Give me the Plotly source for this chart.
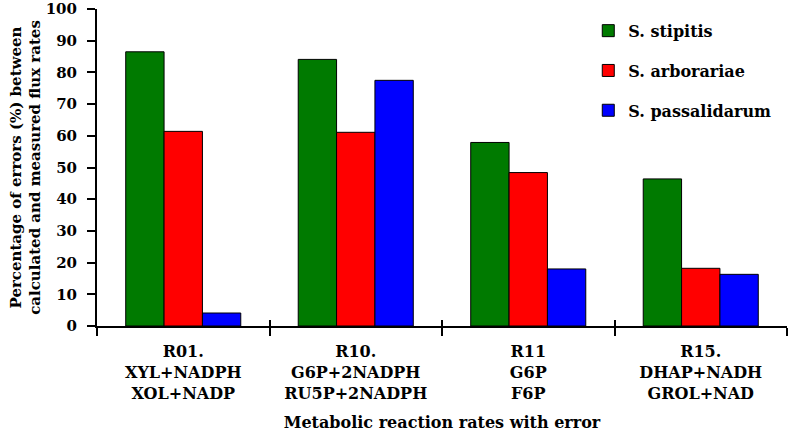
import plotly.graph_objects as go

categories = ["R01.<br>XYL+NADPH<br>XOL+NADP",
              "R10.<br>G6P+2NADPH<br>RU5P+2NADPH",
              "R11<br>G6P<br>F6P",
              "R15.<br>DHAP+NADH<br>GROL+NAD"]
series_names = ["S. stipitis", "S. arborariae", "S. passalidarum"]
stipitis = [86.5, 84.1, 57.9, 46.4]
arborariae = [61.4, 61.1, 48.4, 18.2]
passalidarum = [4.1, 77.5, 18.0, 16.3]
colors = ["#007a00", "#ff0000", "#0000ff"]
y_ticks = [0, 10, 20, 30, 40, 50, 60, 70, 80, 90, 100]

FONT = "DejaVu Serif"

fig = go.Figure()
for i, (name, vals) in enumerate(zip(series_names, [stipitis, arborariae, passalidarum])):
    fig.add_trace(go.Bar(
        x=categories, y=vals, name=name, legendgroup=name,
        marker=dict(color=colors[i], line=dict(color="black", width=1)),
    ))

fig.update_layout(
    width=788, height=432,
    margin=dict(l=97, r=1, t=9, b=106),
    paper_bgcolor="white", plot_bgcolor="white",
    barmode="group", bargap=0.333, bargroupgap=0,
    font=dict(family=FONT, size=15, color="black"),
    legend=dict(x=0.712, y=0.985, xanchor="left", yanchor="top",
                font=dict(family=FONT, size=16, color="black", weight="bold"),
                tracegroupgap=16, traceorder="grouped", itemwidth=30,
                bgcolor="rgba(0,0,0,0)"),
    xaxis=dict(
        type="category", showline=True, linecolor="black", linewidth=2,
        ticks="outside", tickson="boundaries", ticklen=8, tickwidth=2, tickcolor="black",
        ticklabelstandoff=10,
        tickfont=dict(family=FONT, size=16, color="black", weight="bold"),
        title=dict(text="Metabolic reaction rates with error",
                   font=dict(family=FONT, size=16, color="black", weight="bold"),
                   standoff=19),
        showgrid=False, automargin=False,
    ),
    xaxis2=dict(
        overlaying="x", range=[-0.5, 3.5], tick0=-0.5, dtick=1, ticks="inside",
        ticklen=6, tickwidth=2, tickcolor="black", showticklabels=False,
        showgrid=False, showline=False, zeroline=False, anchor="y", side="bottom",
    ),
    yaxis=dict(
        range=[0, 100], tickvals=y_ticks, showline=True, linecolor="black", linewidth=2,
        ticks="outside", ticklen=8, tickwidth=2, tickcolor="black",
        ticklabelstandoff=7, ticklabeloverflow="allow",
        tickfont=dict(family=FONT, size=15, color="black", weight="bold"),
        title=dict(text="Percentage of errors (%) between<br>calculated and measured flux rates",
                   font=dict(family=FONT, size=15, color="black", weight="bold"),
                   standoff=1),
        showgrid=False, zeroline=False, automargin=False,
    ),
)
# invisible helper trace so the overlay axis (crossing boundary ticks) is drawn
fig.add_trace(go.Scatter(x=[0], y=[0], xaxis="x2", mode="markers",
                         marker=dict(opacity=0), showlegend=False, hoverinfo="skip"))

fig.write_html("out.html", config={"displayModeBar": False},
               post_script="document.body.style.margin='0';")
